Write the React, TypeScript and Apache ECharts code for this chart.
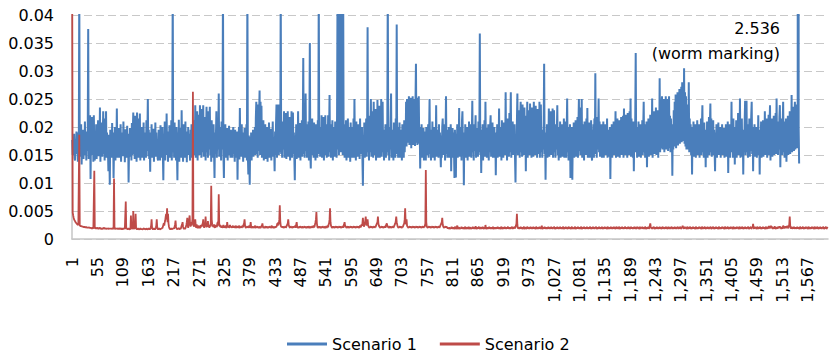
import React, { useEffect, useRef } from "react";
import * as echarts from "echarts";

// values in units of 0.0001
const UNIT = 0.0001;
const N_CATEGORIES = 1610;
const Y_MIN = 0;
const Y_MAX = 0.04;
const Y_INTERVAL = 0.005;
const LABEL_EVERY = 54;
const SERIES_NAMES = ["Scenario 1", "Scenario 2"];
const ANNOTATION = ["2.536", "(worm marking)"];

const categories: string[] = Array.from({ length: N_CATEGORIES }, (_, i) =>
  String(i + 1).replace(/\B(?=(\d{3})+(?!\d))/g, ",")
);

const scenario1: number[] = [
  177,150,182,155,188,145,140,178,157,192,152,185,138,190,160,450,147,188,155,205,
  133,180,152,195,143,186,158,210,150,182,140,192,157,180,375,143,190,152,221,107,
  186,150,218,160,200,138,221,162,140,190,
  155,205,143,185,157,212,148,180,160,235,138,192,155,208,147,185,228,152,200,140,
  215,157,228,145,190,155,162,121,186,150,97,195,157,182,145,207,152,190,109,162,
  155,200,140,188,160,233,145,185,152,198,
  145,182,157,205,138,190,160,180,148,210,155,185,137,196,160,182,145,202,152,188,
  101,162,147,198,155,184,140,207,150,192,226,152,185,143,220,157,200,138,226,160,
  190,145,215,155,224,140,187,152,200,145,
  162,155,208,140,190,152,183,145,212,157,185,250,148,195,143,182,120,190,155,205,
  145,186,157,197,138,182,152,208,147,190,157,178,143,140,195,152,185,140,203,160,
  180,145,200,152,105,188,155,210,140,183,
  150,224,155,192,138,185,160,203,145,187,152,212,140,182,450,155,195,145,208,157,
  183,140,200,155,105,190,150,213,138,185,160,198,145,230,152,188,138,205,157,180,
  145,210,155,192,137,183,160,200,150,188,
  157,140,195,152,205,145,185,160,212,150,190,157,239,145,210,160,228,140,200,155,
  222,150,239,162,215,145,232,155,205,239,147,195,162,218,140,190,236,155,210,145,
  228,160,200,236,150,188,138,212,155,185,
  145,205,157,109,190,152,185,228,145,195,160,182,260,147,200,155,187,140,210,160,
  183,450,150,109,192,157,205,145,188,155,198,140,185,162,202,150,182,145,195,157,
  184,145,190,200,152,178,138,195,157,185,
  145,192,106,182,155,200,142,234,157,185,147,205,152,190,138,183,160,198,145,187,
  155,205,140,450,152,115,185,145,97,182,152,190,140,180,158,195,147,186,155,200,
  150,215,245,152,230,145,240,157,225,265,
  150,245,160,238,145,200,155,212,140,190,157,205,143,185,160,200,138,190,152,208,
  145,183,158,197,140,186,155,210,147,182,160,121,192,150,205,240,145,228,157,240,
  150,220,240,155,450,152,200,145,210,160,
  185,228,145,205,155,225,143,200,160,228,147,210,155,218,140,195,160,228,145,200,
  226,152,190,145,105,185,157,205,143,195,155,228,145,190,160,207,140,188,155,212,
  147,195,323,152,200,145,185,260,157,205,
  145,190,160,210,140,195,350,155,126,200,150,215,157,190,145,208,155,185,140,205,
  160,192,145,212,152,450,155,200,147,188,160,221,145,198,155,218,140,190,160,221,
  150,205,145,195,160,221,147,190,257,155,
  205,145,190,157,212,140,185,155,200,147,210,160,192,145,220,450,160,450,150,450,
  165,450,155,450,160,450,150,450,155,205,145,190,160,212,140,186,157,215,145,200,
  155,190,138,208,160,183,145,200,152,215,
  145,250,157,195,140,210,155,188,147,205,160,190,143,215,152,185,157,200,142,95,
  185,155,208,145,195,160,215,147,190,378,155,205,140,220,155,195,250,147,228,160,
  210,145,245,155,200,150,232,140,215,160,
  248,145,205,157,238,145,218,160,250,147,210,245,155,195,140,185,160,205,145,190,
  155,210,450,150,200,140,188,160,212,260,145,195,157,185,140,208,155,190,145,215,
  160,383,152,200,145,185,157,208,145,195,
  155,188,140,205,160,190,145,212,155,185,170,245,165,250,172,238,178,255,168,240,
  175,252,162,245,178,255,168,236,175,250,166,245,313,172,252,168,240,176,255,170,
  200,126,190,152,205,145,185,157,198,140,
  192,155,180,140,200,150,185,160,205,145,190,250,152,195,140,185,157,210,145,190,
  160,200,140,185,155,239,147,195,157,180,145,205,152,190,160,128,185,145,200,215,
  150,190,157,205,140,187,255,152,195,145,
  185,160,200,145,190,155,205,121,185,152,198,145,190,160,109,195,150,110,188,157,
  205,145,192,160,234,147,200,155,188,140,210,228,152,190,96,185,157,205,145,192,
  160,200,140,185,152,210,147,190,160,205,
  145,188,247,155,195,140,205,157,185,221,145,198,160,190,147,210,155,185,367,150,
  195,118,190,155,205,140,188,160,212,147,245,155,198,145,190,160,205,140,185,155,
  200,221,147,190,160,208,145,185,157,200,
  145,190,114,185,155,205,145,195,160,233,147,200,155,188,140,212,160,195,145,208,
  157,190,150,262,155,200,140,215,160,192,147,225,155,205,262,145,195,160,210,150,
  190,157,205,145,101,185,155,210,260,150,
  205,160,230,145,215,245,155,225,147,240,160,210,150,235,155,200,121,220,160,245,
  145,230,157,210,150,242,160,215,145,235,155,225,147,245,160,205,150,238,155,218,
  145,232,160,210,152,245,145,205,240,155,
  195,145,185,160,205,313,152,190,106,185,155,205,145,195,160,233,147,210,155,228,
  150,200,160,233,145,195,230,155,188,145,205,160,190,239,150,200,140,185,157,210,
  145,192,160,205,147,188,155,215,145,195,
  160,210,145,190,251,155,200,140,185,160,205,109,190,155,200,106,185,157,208,145,
  195,160,212,147,190,155,218,145,200,250,157,215,150,235,160,250,145,205,155,190,
  140,210,160,195,150,215,155,234,145,195,
  157,208,145,190,160,212,150,140,195,155,205,145,215,160,296,152,200,145,218,160,
  190,251,155,210,147,195,160,205,145,188,157,210,145,195,160,205,150,190,157,215,
  145,195,160,185,147,200,107,190,155,205,
  145,195,160,210,150,190,157,228,145,205,160,215,147,195,155,212,145,200,160,218,
  150,205,157,220,145,233,160,210,150,222,157,200,145,225,160,212,150,228,155,251,
  147,215,160,200,145,210,121,195,155,215,
  332,155,200,145,190,160,210,147,195,155,205,145,188,160,212,150,198,245,155,205,
  145,195,160,210,128,190,155,215,147,200,160,222,150,205,157,251,145,210,160,228,
  152,212,160,235,150,215,157,230,145,218,
  160,287,155,225,162,240,255,160,238,167,250,155,230,170,255,160,242,165,250,157,
  235,255,162,220,155,215,165,205,113,200,160,230,165,245,170,258,162,250,175,262,
  167,255,180,268,170,260,177,272,173,280,
  180,275,175,305,170,262,165,255,160,240,167,230,160,280,155,215,162,205,150,200,
  115,195,155,210,147,190,160,205,145,195,157,212,150,190,160,205,145,198,157,215,
  150,200,239,155,192,145,208,160,190,128,
  195,155,210,145,200,160,218,150,205,242,155,215,147,200,160,212,150,195,157,121,
  190,155,205,145,195,160,208,150,190,157,200,145,192,160,205,150,188,157,198,145,
  190,160,205,147,195,155,210,118,190,155,
  205,145,195,160,245,155,200,145,215,157,190,133,200,155,212,145,195,162,225,150,
  205,157,251,145,200,160,215,147,195,115,190,155,210,247,150,230,247,155,205,145,
  195,160,215,147,200,157,220,245,152,200,
  121,195,155,205,147,190,160,200,145,195,157,221,150,190,115,195,155,210,145,200,
  160,212,147,195,157,228,150,205,160,215,145,200,157,222,150,205,239,140,200,160,
  215,147,195,162,220,150,205,157,225,152,
  251,155,210,150,200,160,218,239,128,200,157,215,150,205,245,155,210,145,200,162,
  215,138,205,155,220,150,210,160,228,152,215,162,257,155,220,165,236,157,215,245,
  160,225,165,240,162,230,25360,200,135,
];

const scenario2: number[] = [
  420,47,42,38,35,33,32,30,29,28,27,26,26,25,25,186,24,24,23,23,
  23,22,22,22,22,21,22,21,21,21,21,21,20,21,20,20,21,20,20,20,
  20,19,20,20,19,20,20,122,20,19,
  19,20,19,19,20,19,18,19,19,20,19,19,18,19,19,18,19,19,20,19,
  18,19,19,18,19,18,19,19,18,19,18,19,18,19,18,18,19,18,19,108,
  19,18,18,19,18,19,18,18,19,18,
  18,19,18,18,19,18,17,18,19,18,18,19,18,18,67,18,19,18,17,18,
  19,18,18,17,19,42,18,19,18,20,50,19,18,20,22,45,19,18,17,18,
  19,18,18,17,18,19,18,17,18,18,
  17,18,18,19,17,18,18,17,19,18,18,17,18,19,18,17,18,20,24,35,
  20,18,17,18,19,18,17,18,20,24,35,21,18,17,18,19,18,18,17,19,
  18,20,19,22,25,28,24,30,33,40,
  45,35,55,30,45,28,22,19,18,17,18,19,18,17,19,18,20,18,22,26,
  33,22,19,18,17,19,18,20,18,17,19,18,21,24,26,30,22,19,18,20,
  18,19,22,25,30,38,24,20,28,35,
  42,26,22,30,24,28,35,263,30,22,25,28,35,24,20,26,22,19,24,21,
  20,23,19,25,21,24,22,26,28,35,24,20,26,22,40,25,21,24,22,32,
  22,25,20,24,22,28,95,35,26,22,
  24,21,26,22,20,25,22,24,21,28,30,24,80,28,22,25,21,23,20,24,
  22,20,25,21,23,20,22,24,21,20,30,23,21,24,20,22,25,21,23,20,
  22,21,24,20,23,21,22,20,24,21,
  20,23,21,22,20,24,21,20,22,21,23,20,22,24,21,26,28,35,24,21,
  20,22,21,23,20,22,21,24,20,22,30,22,20,21,23,20,22,21,20,24,
  21,20,22,21,23,20,21,22,20,21,
  22,20,21,23,24,28,22,20,21,22,20,21,23,20,22,21,20,22,21,20,
  23,21,22,20,21,24,20,22,21,20,22,21,20,23,21,22,25,28,24,30,
  26,35,60,32,24,22,21,23,20,22,
  21,20,22,21,23,20,22,24,26,28,35,26,22,21,20,23,21,22,20,21,
  22,20,23,21,22,24,20,26,30,22,21,20,22,21,20,23,21,22,20,21,
  22,21,20,22,21,23,20,21,22,20,
  21,22,20,23,21,20,22,21,20,22,21,23,20,22,24,21,22,26,30,35,
  48,28,22,20,21,23,20,22,21,20,22,21,20,23,21,22,20,21,22,20,
  21,23,20,22,24,21,26,28,35,55,
  30,24,22,20,21,23,20,22,21,20,22,21,23,20,22,21,20,22,21,23,
  20,22,21,20,22,21,23,20,24,26,30,24,21,22,20,21,23,20,22,21,
  20,22,21,23,20,22,21,20,22,21,
  23,20,22,21,20,22,21,23,20,22,21,20,22,24,21,22,26,24,28,38,
  26,22,24,28,32,40,28,24,30,35,26,22,21,20,22,21,23,20,22,21,
  20,22,21,23,20,22,21,24,26,28,
  30,40,28,24,22,21,20,22,21,23,20,22,21,20,22,21,23,20,24,26,
  28,24,21,22,20,21,23,20,22,21,20,22,21,23,20,22,24,26,28,32,
  40,30,26,22,21,20,22,21,23,20,
  22,21,20,22,21,24,26,28,35,55,30,26,35,24,22,21,20,22,21,23,
  20,22,21,20,22,21,23,20,22,21,20,22,21,23,20,22,21,20,22,21,
  23,20,22,21,20,22,21,23,20,22,
  21,24,28,123,30,22,21,20,22,21,23,20,22,21,20,22,21,23,20,22,
  21,20,22,21,23,20,22,21,20,22,21,23,20,22,24,26,28,30,38,26,
  22,21,20,22,21,23,20,22,21,20,
  19,20,18,21,19,18,20,19,22,18,20,19,21,18,19,22,20,18,19,21,
  24,19,18,20,21,19,18,20,19,22,18,20,19,21,18,19,20,22,19,18,
  21,19,20,18,22,19,18,20,21,19,
  18,20,19,22,18,21,19,20,18,23,20,19,18,21,19,20,22,18,19,20,
  21,18,20,19,22,18,19,21,20,18,25,20,19,18,21,19,20,18,22,19,
  20,18,21,19,20,18,22,19,18,21,
  19,20,18,21,20,19,22,18,20,19,21,18,19,20,22,19,18,21,19,20,
  18,22,19,20,18,21,19,20,22,18,20,19,21,18,20,19,22,20,18,21,
  19,20,22,19,21,24,28,45,25,20,
  19,21,18,20,19,22,18,20,21,19,18,20,22,19,18,21,20,19,18,22,
  20,19,21,18,20,19,22,18,21,19,20,18,22,19,20,21,18,19,22,20,
  18,21,19,20,18,22,19,21,18,20,
  24,19,18,21,20,19,22,18,20,19,21,18,20,19,22,18,21,19,20,18,
  22,19,20,18,21,19,22,20,18,19,21,20,18,22,19,20,18,21,19,22,
  18,20,19,21,18,22,20,19,18,21,
  19,22,18,20,21,19,18,22,20,19,21,18,19,20,22,18,21,19,20,18,
  20,22,19,18,21,20,19,22,18,20,19,21,18,20,22,19,18,21,20,19,
  22,18,20,19,21,18,22,19,20,18,
  21,19,20,22,18,19,21,20,18,22,19,20,18,21,19,22,20,18,19,21,
  20,18,22,19,21,18,20,19,22,18,19,21,20,18,22,19,20,21,18,19,
  22,20,18,21,19,20,18,22,19,21,
  18,20,19,22,18,21,20,19,18,22,20,19,21,18,20,22,19,18,21,20,
  19,22,18,20,19,21,18,22,20,19,21,18,20,19,22,18,21,20,19,18,
  22,19,20,21,18,20,19,22,18,21,
  20,19,18,22,19,21,20,18,19,22,18,20,21,19,22,18,20,19,21,18,
  22,20,19,18,21,20,19,22,18,20,24,28,22,19,20,18,21,19,22,20,
  18,19,21,20,18,22,19,21,18,20,
  19,22,18,20,21,19,18,22,20,19,21,18,20,19,22,18,21,20,19,18,
  22,19,20,18,21,19,22,20,18,21,19,20,18,22,19,21,18,20,19,22,
  20,18,21,19,20,22,18,19,21,20,
  24,19,20,18,22,19,21,20,18,19,22,20,18,21,19,20,22,18,19,21,
  20,18,22,19,20,21,18,19,22,20,18,21,19,20,18,22,19,21,20,18,
  19,22,20,18,21,19,20,22,18,19,
  21,20,18,22,19,20,18,21,19,22,20,18,19,21,20,22,18,19,21,20,
  18,22,19,20,21,18,19,22,20,18,21,19,20,18,22,19,21,20,18,19,
  22,20,18,21,19,20,22,18,19,21,
  20,18,22,19,21,20,18,19,22,20,18,21,19,20,18,22,19,21,20,18,
  19,22,20,18,21,19,20,22,18,19,21,20,18,22,19,20,18,21,19,22,
  20,18,19,21,20,22,18,19,21,20,
  27,20,18,22,19,21,20,18,19,22,20,18,21,19,20,22,18,19,21,20,
  18,22,19,20,21,18,19,22,20,18,21,19,20,23,22,19,21,20,24,19,
  22,20,18,21,19,20,23,18,19,21,
  20,18,22,19,21,20,23,19,22,20,18,21,19,20,24,22,19,21,20,23,
  19,22,20,24,21,19,23,26,40,24,20,19,22,18,21,20,19,22,18,20,
  21,19,20,18,22,19,20,21,18,19,
  22,20,18,21,19,20,22,18,19,21,20,18,22,19,21,20,18,19,22,20,
  18,21,19,20,18,22,19,21,20,18,19,22,20,18,21,19,20,22,18,19,
  21,20,18,22,19,20,18,21,19,22,
  20,18,19,21,20,22,18,19,21,20,
];

const FONT = "DejaVu Sans";

export default function App() {
  const ref = useRef<HTMLDivElement>(null);

  useEffect(() => {
    document.body.style.margin = "0";
    if (!ref.current) return;
    const chart = echarts.init(ref.current, undefined, { renderer: "svg" });
    chart.setOption({
      animation: false,
      backgroundColor: "#ffffff",
      color: ["#4A7EBB", "#BE4B48"],
      grid: { left: 72, right: 7, top: 15, bottom: 120, containLabel: false },
      legend: {
        data: SERIES_NAMES,
        left: 282,
        top: 331,
        icon: "rect",
        itemWidth: 40,
        itemHeight: 3,
        itemGap: 23,
        textStyle: { fontFamily: FONT, fontSize: 16, color: "#000" },
      },
      xAxis: {
        type: "category",
        data: categories,
        boundaryGap: true,
        axisLine: { show: true, lineStyle: { color: "#c6c6c6", width: 1.5 } },
        axisTick: { show: false },
        axisLabel: {
          interval: LABEL_EVERY - 1,
          rotate: 90,
          margin: 18,
          fontFamily: FONT,
          fontSize: 16,
          color: "#000",
        },
        splitLine: { show: false },
      },
      yAxis: {
        type: "value",
        min: Y_MIN,
        max: Y_MAX,
        interval: Y_INTERVAL,
        axisLine: { show: true, lineStyle: { color: "#c6c6c6", width: 1.5 } },
        axisTick: { show: false },
        axisLabel: {
          margin: 18,
          fontFamily: FONT,
          fontSize: 16,
          color: "#000",
          formatter: (v: number) => String(+v.toFixed(3)),
        },
        splitLine: { show: true, lineStyle: { color: "#c8c8c8", width: 1.2, type: [8, 4] } },
      },
      series: [
        {
          name: SERIES_NAMES[0],
          type: "line",
          data: scenario1.map((v) => v * UNIT),
          symbol: "none",
          showSymbol: false,
          clip: true,
          lineStyle: { width: 2 },
          z: 2,
        },
        {
          name: SERIES_NAMES[1],
          type: "line",
          data: scenario2.map((v) => v * UNIT),
          symbol: "none",
          showSymbol: false,
          clip: true,
          lineStyle: { width: 1.8 },
          z: 3,
        },
      ],
      graphic: [
        {
          type: "text",
          x: 780,
          y: 15.5,
          style: {
            text: ANNOTATION.join("\n"),
            fill: "#000",
            font: `16px "${FONT}"`,
            align: "right",
            textAlign: "right",
            verticalAlign: "top",
            textVerticalAlign: "top",
            lineHeight: 25,
          },
        },
      ],
    });
    return () => chart.dispose();
  }, []);

  return <div ref={ref} style={{ width: 835, height: 359 }} />;
}
